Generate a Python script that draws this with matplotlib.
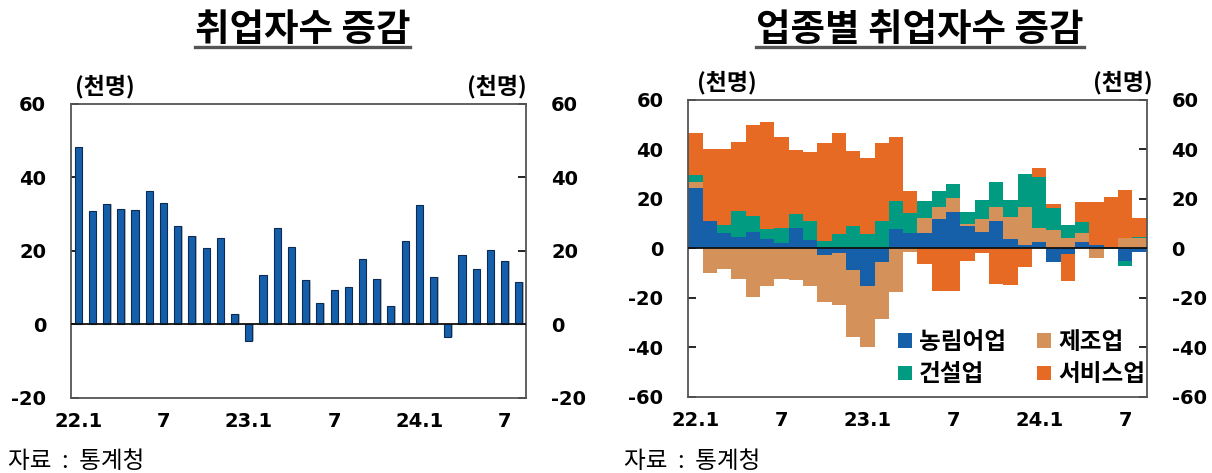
import numpy as np
import matplotlib.pyplot as plt

plt.rcParams['font.family'] = ['Noto Sans CJK KR', 'DejaVu Sans']
plt.rcParams['axes.unicode_minus'] = False

# 월별 (22.1 ~ 24.8)
xticklabels = ['22.1', '7', '23.1', '7', '24.1', '7']
xtick_pos = [0, 6, 12, 18, 24, 30]

# 취업자수 증감 (천명)
total = [48.3, 30.8, 32.9, 31.5, 31.1, 36.4, 33.0, 26.9, 24.1, 20.7, 23.6, 2.8,
         -4.4, 13.4, 26.3, 21.0, 12.2, 5.9, 9.3, 10.1, 17.7, 12.5, 5.0, 22.8,
         32.5, 13.0, -3.5, 19.0, 15.1, 20.3, 17.2, 11.5]

# 업종별 취업자수 증감 (천명)
agri = [24.5, 10.9, 6.3, 4.6, 6.6, 3.9, 2.2, 8.1, 3.4, -2.7, -2.0, -8.8,
        -15.1, -5.4, 7.7, 6.3, 6.3, 11.7, 14.9, 9.0, 6.6, 11.0, 3.9, 1.2,
        2.6, -5.4, -2.4, 2.6, 1.3, 0.4, -5.1, -1.6]
manuf = [2.4, -10.1, -8.4, -12.4, -19.5, -15.1, -12.5, -12.9, -15.1, -19.0, -21.0, -27.2,
         -24.9, -23.3, -17.8, -1.3, 5.9, 5.1, 5.5, 0.8, 5.1, 5.8, 8.6, 15.6,
         5.6, 7.4, 4.3, 3.7, -3.8, 0.0, 4.0, 4.3]
constr = [2.7, 0.0, 3.1, 10.6, 6.5, 3.8, 6.2, 5.8, 7.8, 3.0, 5.9, 9.0,
          5.9, 11.2, 11.4, 8.0, 6.9, 6.3, 5.6, 4.9, 7.8, 10.0, 7.0, 13.1,
          20.6, 9.0, 5.0, 4.2, -0.3, -0.3, -1.9, 0.4]
serv = [17.2, 29.1, 30.7, 27.8, 36.6, 43.2, 36.7, 25.7, 27.9, 39.6, 40.8, 30.3,
        30.5, 31.4, 25.9, 8.9, -6.3, -17.1, -17.1, -5.0, -2.0, -14.5, -14.8, -7.4,
        3.5, 1.4, -10.7, 8.1, 17.3, 20.2, 19.8, 7.7]

sectors = ['농림어업', '제조업', '건설업', '서비스업']
colors = ['#1660AA', '#D4915A', '#009B80', '#E66A23']

fig = plt.figure(figsize=(12.12, 4.73), dpi=100)
ax1 = fig.add_axes([0.0586, 0.1586, 0.3754, 0.6216])
ax2 = fig.add_axes([0.568, 0.1613, 0.378, 0.6273])

x = np.arange(len(total))

# --- 왼쪽: 취업자수 증감
ax1.bar(x + 0.1, total, width=0.5, color='#B8B8B8', zorder=2)
ax1.bar(x, total, width=0.5, color='#155FAA', edgecolor='#0B2B55', linewidth=0.8, zorder=3)
ax1.set_ylim(-20, 60)
ax1.set_yticks([-20, 0, 20, 40, 60])

# --- 오른쪽: 업종별 (누적)
series = [agri, manuf, constr, serv]
pos_base = np.zeros(len(x))
neg_base = np.zeros(len(x))
for vals, name, c in zip(series, sectors, colors):
    v = np.array(vals)
    p = np.clip(v, 0, None)
    n = np.clip(v, None, 0)
    ax2.bar(x, p, width=1.0, bottom=pos_base, color=c, linewidth=0, label=name, zorder=2)
    ax2.bar(x, n, width=1.0, bottom=neg_base, color=c, linewidth=0, zorder=2)
    pos_base += p
    neg_base += n
ax2.set_ylim(-60, 60)
ax2.set_yticks(np.arange(-60, 61, 20))

for ax in (ax1, ax2):
    ax.set_xlim(-0.5, len(x) - 0.5)
    ax.axhline(0, color='#111111', linewidth=1.3, zorder=4)
    ax.set_xticks(xtick_pos)
    ax.set_xticklabels(xticklabels)
    ax.tick_params(axis='x', length=0, pad=10)
    ax.tick_params(axis='y', direction='in', length=6, width=1.2,
                   left=True, right=True, labelleft=True, labelright=True, pad=18)
    for lab in ax.get_xticklabels() + ax.get_yticklabels():
        lab.set_fontfamily('DejaVu Sans')
        lab.set_fontweight('bold')
        lab.set_fontsize(14)
    for s in ax.spines.values():
        s.set_color('#555555')
        s.set_linewidth(1.3)

h, l = ax2.get_legend_handles_labels()
order = [0, 2, 1, 3]
ax2.legend([h[i] for i in order], [l[i] for i in order], ncol=2, loc='lower right',
           frameon=False, prop={'size': 17, 'weight': 'bold'},
           handlelength=0.6, handleheight=0.6, handletextpad=0.3,
           columnspacing=1.3, labelspacing=0.35,
           borderaxespad=0.0, borderpad=0.0, bbox_to_anchor=(0.997, 0.035))

# 제목 (밑줄)
for cx, title in [(0.2495, '취업자수 증감'), (0.759, '업종별 취업자수 증감')]:
    t = fig.text(cx, 0.937, title, ha='center', va='center', fontsize=27, fontweight='bold')
    fig.canvas.draw()
    bb = t.get_window_extent().transformed(fig.transFigure.inverted())
    fig.add_artist(plt.Line2D([bb.x0, bb.x1], [0.9, 0.9], color='#555555', linewidth=2.4))

# 단위
fig.text(0.0619, 0.818, '(천명)', fontsize=16.5, fontweight='bold', va='center')
fig.text(0.435, 0.818, '(천명)', fontsize=16.5, fontweight='bold', va='center', ha='right')
fig.text(0.575, 0.826, '(천명)', fontsize=16.5, fontweight='bold', va='center')
fig.text(0.951, 0.826, '(천명)', fontsize=16.5, fontweight='bold', va='center', ha='right')

# 자료
fig.text(0.0066, 0.024, '자료  :  통계청', fontsize=17, va='center')
fig.text(0.515, 0.024, '자료  :  통계청', fontsize=17, va='center')

fig.savefig('out.png', dpi=100)
